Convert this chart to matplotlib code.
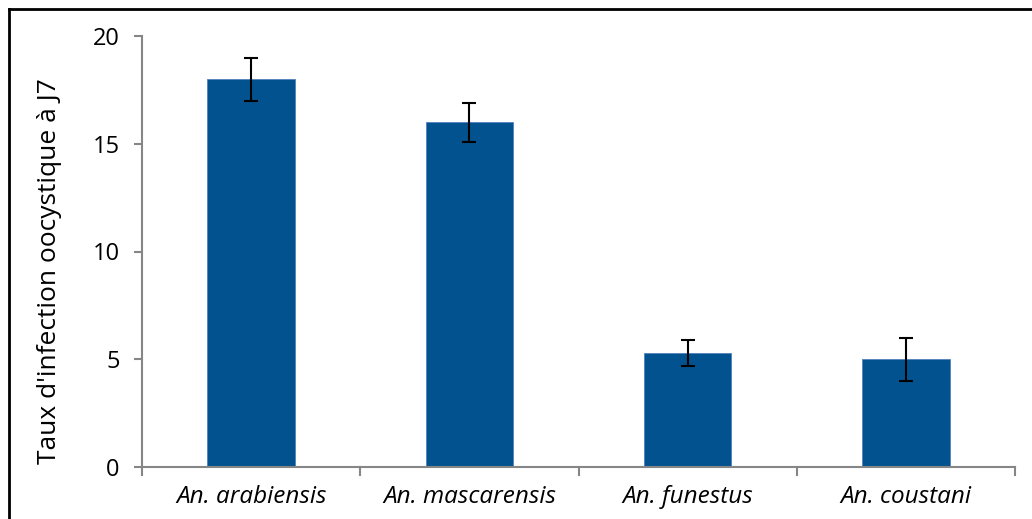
import matplotlib
matplotlib.use('Agg')
import matplotlib.pyplot as plt
from matplotlib.lines import Line2D
import numpy as np

# ── Data ──────────────────────────────────────────────────────────────────────
species = ['An. arabiensis', 'An. mascarensis', 'An. funestus', 'An. coustani']
taux    = [18.0, 16.0, 5.3, 5.0]
erreur  = [1.0, 0.9, 0.6, 1.0]
y_ticks = [0, 5, 10, 15, 20]

BAR_COLOR  = '#02528f'
AXIS_COLOR = '#868686'

plt.rcParams['font.family'] = ['Open Sans', 'DejaVu Sans']

fig = plt.figure(figsize=(10.32, 5.19), dpi=100)
ax = fig.add_axes([142 / 1032, 1 - 467 / 519, (1015 - 142) / 1032, (467 - 36) / 519])

x = np.arange(len(species))
ax.bar(x, taux, width=0.4, color=BAR_COLOR, edgecolor='#4f81bd', linewidth=0.6, zorder=2)
ax.errorbar(x, taux, yerr=erreur, fmt='none', ecolor='black', elinewidth=1.5,
            capsize=5, capthick=1.5, zorder=3)

ax.set_xlim(-0.5, len(species) - 0.5)
ax.set_ylim(0, 20)
ax.set_yticks(y_ticks)
ax.set_yticklabels([str(v) for v in y_ticks], fontsize=17)

# category labels centred, tick marks at category boundaries
ax.set_xticks(x)
ax.set_xticklabels(species, fontsize=17.5, style='italic')
ax.tick_params(axis='x', length=0, pad=13)
for xb in np.arange(-0.5, len(species), 1.0):
    ax.plot([xb, xb], [0, -0.019], transform=ax.get_xaxis_transform(),
            color=AXIS_COLOR, lw=1.5, clip_on=False)

ax.tick_params(axis='y', color=AXIS_COLOR, width=1.5, length=6, pad=10)

for side in ['top', 'right']:
    ax.spines[side].set_visible(False)
for side in ['left', 'bottom']:
    ax.spines[side].set_color(AXIS_COLOR)
    ax.spines[side].set_linewidth(1.5)

ax.set_ylabel("Taux d'infection oocystique à J7", fontsize=19)
ax.yaxis.set_label_coords(-80 / 873, 0.5 - 20 / 431)

# outer frame (left and top only, cropped on right/bottom)
fig.add_artist(Line2D([9 / 1032, 9 / 1032], [0, 1 - 9 / 519], color='black', lw=2,
                      transform=fig.transFigure))
fig.add_artist(Line2D([9 / 1032, 1], [1 - 9 / 519, 1 - 9 / 519], color='black', lw=2,
                      transform=fig.transFigure))

fig.savefig('out.png', dpi=100)
